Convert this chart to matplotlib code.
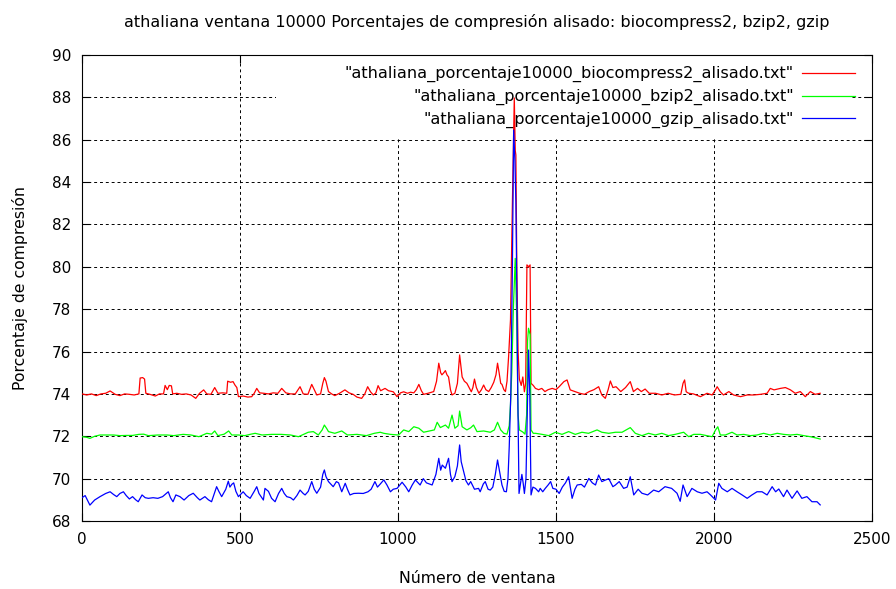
import numpy as np
import matplotlib
matplotlib.use("Agg")
import matplotlib.pyplot as plt
from matplotlib.patches import Rectangle

# Window index / smoothed compression percentage
bio_x = [0, 15, 30, 45, 60, 75, 89, 105, 120, 135, 150, 165, 180, 184, 192, 198, 202, 215, 232, 245,
         258, 263, 270, 276, 283, 287, 300, 315, 330, 345, 360, 372, 385, 395, 408, 420, 430, 445, 458, 461,
         470, 478, 484, 490, 495, 510, 525, 537, 545, 553, 562, 575, 590, 605, 620, 632, 645, 660, 675, 690,
         700, 715, 727, 735, 743, 755, 762, 767, 772, 780, 790, 800, 815, 832, 845, 858, 870, 885, 895, 904,
         913, 922, 930, 937, 945, 959, 970, 985, 997, 1008, 1018, 1030, 1040, 1050, 1058, 1066, 1074, 1081, 1095, 1113,
         1122, 1129, 1135, 1139, 1145, 1150, 1155, 1160, 1166, 1171, 1180, 1188, 1195, 1200, 1203, 1210, 1218, 1225, 1232, 1237,
         1242, 1248, 1256, 1264, 1271, 1278, 1287, 1295, 1303, 1310, 1315, 1320, 1325, 1329, 1335, 1340, 1345, 1350, 1356, 1362,
         1368, 1371, 1373, 1376, 1380, 1384, 1390, 1395, 1400, 1404, 1408, 1414, 1418, 1421, 1428, 1435, 1445, 1455, 1465, 1475,
         1488, 1500, 1510, 1525, 1535, 1545, 1560, 1575, 1590, 1605, 1620, 1635, 1645, 1656, 1665, 1672, 1680, 1690, 1705, 1720,
         1735, 1745, 1758, 1770, 1782, 1795, 1815, 1835, 1855, 1875, 1895, 1902, 1907, 1912, 1920, 1935, 1957, 1978, 1994, 2005,
         2010, 2020, 2030, 2047, 2062, 2084, 2105, 2126, 2147, 2168, 2178, 2190, 2210, 2226, 2242, 2257, 2273, 2289, 2305, 2320,
         2336]
bio_y = [74.0, 73.95, 74.0, 73.92, 74.0, 74.03, 74.14, 73.98, 73.92, 74.0, 73.98, 73.95, 74.0, 74.75, 74.77, 74.7, 74.03, 73.98, 73.9, 74.0,
         74.0, 74.4, 74.2, 74.4, 74.38, 74.0, 74.03, 73.98, 74.0, 73.95, 73.79, 74.03, 74.19, 74.0, 73.98, 74.3, 74.03, 74.05, 74.03, 74.6,
         74.55, 74.58, 74.42, 74.3, 73.87, 73.9, 73.85, 73.87, 74.03, 74.26, 74.05, 74.03, 74.0, 74.05, 74.03, 74.26, 74.05, 74.0, 74.0, 74.34,
         74.0, 73.98, 74.45, 74.2, 73.95, 74.0, 74.5, 74.77, 74.6, 74.11, 74.0, 73.92, 74.03, 74.19, 74.05, 73.98, 73.85, 73.79, 74.0, 74.34,
         74.1, 73.95, 74.05, 74.39, 74.15, 74.26, 74.15, 74.1, 73.87, 74.05, 74.1, 74.03, 74.08, 74.05, 74.2, 74.45, 74.15, 73.98, 74.03, 74.11,
         74.6, 75.45, 75.0, 74.9, 75.0, 75.1, 74.9, 74.8, 74.2, 73.95, 74.03, 74.5, 75.84, 75.2, 74.8, 74.6, 74.5, 74.3, 74.1, 74.3,
         74.7, 74.3, 74.03, 74.2, 74.42, 74.2, 74.11, 74.3, 74.55, 74.9, 75.45, 75.0, 74.5, 74.45, 74.2, 74.11, 74.6, 75.76, 77.5, 83.0,
         87.97, 85.5, 85.28, 80.0, 76.0, 74.7, 74.4, 74.8, 74.1, 74.5, 80.09, 80.0, 80.09, 74.5, 74.4, 74.26, 74.2, 74.26, 74.11, 74.2,
         74.26, 74.2, 74.34, 74.58, 74.66, 74.19, 74.11, 74.03, 73.98, 74.11, 74.2, 74.34, 73.95, 73.79, 74.2, 74.61, 74.3, 74.34, 74.11, 74.3,
         74.58, 74.11, 74.26, 74.11, 74.23, 74.03, 74.03, 73.95, 74.03, 73.95, 73.98, 74.5, 74.66, 74.1, 74.03, 74.0, 73.87, 74.03, 73.95, 74.2,
         74.34, 74.1, 73.95, 74.11, 73.95, 73.87, 73.95, 73.95, 73.98, 74.03, 74.26, 74.19, 74.26, 74.3, 74.19, 74.03, 74.11, 73.87, 74.11, 73.98,
         74.03]

bzip_x = [0, 15, 25, 40, 57, 80, 100, 120, 140, 160, 180, 195, 210, 240, 270, 290, 320, 345, 370, 395,
          410, 420, 430, 450, 464, 474, 495, 515, 535, 548, 570, 600, 630, 660, 685, 716, 732, 748, 760, 767,
          775, 780, 800, 822, 840, 870, 900, 925, 944, 955, 976, 1002, 1018, 1034, 1050, 1066, 1081, 1100, 1115, 1124,
          1134, 1150, 1160, 1171, 1180, 1190, 1195, 1203, 1218, 1230, 1239, 1250, 1271, 1292, 1305, 1315, 1325, 1335, 1345, 1352,
          1356, 1360, 1365, 1371, 1375, 1380, 1384, 1395, 1402, 1407, 1410, 1413, 1418, 1421, 1428, 1435, 1456, 1477, 1498, 1519,
          1540, 1561, 1582, 1603, 1630, 1645, 1667, 1688, 1709, 1735, 1751, 1772, 1793, 1814, 1835, 1856, 1877, 1904, 1920, 1936,
          1957, 1978, 1994, 2005, 2012, 2020, 2036, 2057, 2073, 2094, 2115, 2136, 2157, 2178, 2200, 2220, 2242, 2263, 2284, 2305,
          2320, 2336]
bzip_y = [71.98, 71.95, 71.9, 72.0, 72.06, 72.06, 72.06, 72.03, 72.04, 72.04, 72.09, 72.1, 72.03, 72.06, 72.06, 72.03, 72.09, 72.06, 71.98, 72.14,
          72.1, 72.25, 72.03, 72.1, 72.25, 72.06, 72.06, 72.03, 72.1, 72.14, 72.06, 72.09, 72.09, 72.06, 71.98, 72.19, 72.22, 72.06, 72.3, 72.53,
          72.35, 72.22, 72.14, 72.25, 72.06, 72.09, 72.03, 72.14, 72.19, 72.14, 72.09, 72.06, 72.3, 72.22, 72.45, 72.38, 72.19, 72.25, 72.3, 72.66,
          72.41, 72.53, 72.38, 73.0, 72.38, 72.5, 73.19, 72.45, 72.3, 72.4, 72.53, 72.22, 72.25, 72.19, 72.3, 72.66, 72.3, 72.14, 72.1, 72.5,
          73.5, 75.0, 78.0, 80.4, 78.0, 73.0, 72.3, 72.2, 72.1, 73.0, 76.5, 77.1, 76.8, 72.3, 72.14, 72.14, 72.09, 72.03, 72.19, 72.09,
          72.22, 72.09, 72.19, 72.14, 72.3, 72.19, 72.14, 72.19, 72.19, 72.41, 72.14, 72.03, 72.14, 72.06, 72.14, 72.03, 72.09, 72.19, 71.98, 72.09,
          72.09, 72.03, 71.98, 72.3, 72.45, 72.06, 72.06, 72.19, 72.06, 72.09, 72.03, 72.06, 72.14, 72.06, 72.14, 72.09, 72.06, 72.09, 72.03, 71.98,
          71.93, 71.87]

gzip_x = [0, 10, 25, 40, 57, 75, 89, 100, 110, 120, 131, 140, 150, 160, 170, 178, 190, 200, 210, 225,
          240, 255, 273, 280, 288, 297, 310, 323, 338, 352, 365, 373, 389, 400, 410, 426, 433, 442, 455, 463,
          468, 474, 480, 487, 495, 510, 520, 532, 545, 553, 560, 574, 579, 590, 600, 611, 622, 632, 640, 648,
          660, 669, 680, 690, 700, 706, 716, 727, 735, 743, 755, 762, 767, 772, 780, 790, 795, 805, 812, 822,
          833, 840, 848, 860, 875, 890, 905, 915, 927, 935, 943, 955, 965, 976, 985, 997, 1013, 1025, 1034, 1045,
          1055, 1070, 1080, 1090, 1108, 1120, 1129, 1135, 1140, 1150, 1160, 1166, 1171, 1180, 1188, 1195, 1200, 1208, 1215, 1223,
          1230, 1242, 1255, 1260, 1270, 1276, 1285, 1292, 1300, 1308, 1315, 1322, 1329, 1336, 1343, 1348, 1352, 1357, 1362, 1366,
          1370, 1373, 1376, 1379, 1383, 1388, 1392, 1396, 1400, 1405, 1409, 1413, 1417, 1421, 1427, 1435, 1445, 1450, 1458, 1466,
          1475, 1483, 1490, 1500, 1510, 1520, 1530, 1540, 1551, 1560, 1567, 1580, 1590, 1604, 1615, 1625, 1635, 1645, 1651, 1667,
          1680, 1688, 1700, 1714, 1725, 1735, 1746, 1760, 1772, 1790, 1809, 1825, 1845, 1866, 1883, 1893, 1902, 1915, 1930, 1947,
          1962, 1978, 1989, 2005, 2015, 2025, 2042, 2057, 2073, 2089, 2105, 2120, 2136, 2152, 2168, 2184, 2195, 2205, 2220, 2231,
          2247, 2263, 2278, 2294, 2310, 2326, 2336]
gzip_y = [69.1, 69.2, 68.75, 68.99, 69.15, 69.3, 69.38, 69.25, 69.15, 69.3, 69.38, 69.2, 69.04, 69.15, 69.0, 68.91, 69.23, 69.1, 69.07, 69.1,
          69.07, 69.15, 69.38, 69.1, 68.91, 69.23, 69.15, 68.99, 69.2, 69.31, 69.1, 68.99, 69.15, 69.0, 68.91, 69.62, 69.4, 69.15, 69.5, 69.88,
          69.6, 69.73, 69.8, 69.4, 69.15, 69.38, 69.2, 69.07, 69.4, 69.62, 69.3, 68.99, 69.54, 69.4, 69.07, 68.91, 69.3, 69.54, 69.3, 69.15,
          69.1, 68.99, 69.2, 69.46, 69.3, 69.23, 69.4, 69.86, 69.5, 69.31, 69.6, 70.2, 70.41, 70.1, 69.86, 69.7, 69.62, 69.86, 69.8, 69.38,
          69.78, 69.5, 69.23, 69.3, 69.31, 69.3, 69.38, 69.5, 69.86, 69.6, 69.73, 69.94, 69.7, 69.38, 69.5, 69.54, 69.83, 69.6, 69.38, 69.7,
          69.94, 69.7, 70.0, 69.8, 69.7, 70.2, 70.96, 70.4, 70.64, 70.49, 70.96, 70.2, 69.86, 70.1, 70.6, 71.59, 70.8, 70.33, 69.9, 69.7,
          69.86, 69.5, 69.54, 69.38, 69.75, 69.86, 69.5, 69.46, 69.6, 70.2, 70.88, 70.3, 69.7, 69.4, 69.38, 70.0, 71.5, 74.0, 80.0, 86.46,
          85.0, 83.06, 79.0, 74.0, 69.3, 69.8, 70.2, 69.8, 69.3, 70.0, 73.0, 76.07, 74.0, 69.23, 69.6, 69.54, 69.38, 69.54, 69.38, 69.54,
          69.7, 69.86, 69.54, 69.5, 69.3, 69.6, 69.8, 70.09, 69.07, 69.5, 69.7, 69.73, 69.6, 70.01, 69.8, 69.7, 70.17, 69.86, 69.9, 70.0,
          69.62, 69.7, 69.86, 69.54, 69.6, 70.09, 69.23, 69.5, 69.31, 69.23, 69.46, 69.38, 69.62, 69.54, 69.31, 68.93, 69.7, 69.15, 69.54, 69.38,
          69.31, 69.38, 69.23, 68.99, 69.78, 69.54, 69.38, 69.54, 69.38, 69.23, 69.07, 69.23, 69.38, 69.38, 69.23, 69.62, 69.38, 69.51, 69.15, 69.46,
          69.07, 69.42, 69.07, 69.15, 68.91, 68.91, 68.76]

labels = ['"athaliana_porcentaje10000_biocompress2_alisado.txt"',
          '"athaliana_porcentaje10000_bzip2_alisado.txt"',
          '"athaliana_porcentaje10000_gzip_alisado.txt"']
colors = ['#ff0000', '#00ff00', '#0000ff']

x_ticks = [0, 500, 1000, 1500, 2000, 2500]
y_ticks = [68, 70, 72, 74, 76, 78, 80, 82, 84, 86, 88, 90]

plt.rcParams['font.family'] = 'DejaVu Sans'

fig = plt.figure(figsize=(8.96, 5.89), dpi=100)
ax = fig.add_axes([82 / 896, 1 - 521 / 589, 790 / 896, 466 / 589])

series = [(bio_x, bio_y), (bzip_x, bzip_y), (gzip_x, gzip_y)]
for (xs, ys), c, lab in zip(series, colors, labels):
    ax.plot(xs, ys, color=c, linewidth=0.9, label=lab, zorder=3)

ax.set_xlim(0, 2500)
ax.set_ylim(68, 90)
ax.set_xticks(x_ticks)
ax.set_yticks(y_ticks)
ax.tick_params(direction='in', top=True, right=True, length=6, width=0.8,
               labelsize=11, pad=8, colors='black')
ax.grid(True, color='black', linestyle=(0, (3, 3)), linewidth=0.7, zorder=1)
ax.set_axisbelow(True)
for s in ax.spines.values():
    s.set_linewidth(0.8)

# opaque key area (gnuplot style) hides the grid behind the legend
ax.add_patch(Rectangle((0.245, 0.82), 0.73, 0.18, transform=ax.transAxes,
                       facecolor='white', edgecolor='none', zorder=1.5))

leg = ax.legend(loc='upper right', bbox_to_anchor=(0.9785, 0.976), frameon=False,
                markerfirst=False, fontsize=11.6, handlelength=3.3, handletextpad=0.5,
                labelspacing=0.42, borderaxespad=0, borderpad=0)
leg.set_zorder(2)

ax.set_title('athaliana ventana 10000 Porcentajes de compresión alisado: biocompress2, bzip2, gzip',
             fontsize=11.5, pad=20)
ax.set_xlabel('Número de ventana', fontsize=11.3, labelpad=17)
ax.set_ylabel('Porcentaje de compresión', fontsize=11.3, labelpad=17)

fig.savefig('out.png', dpi=100)
